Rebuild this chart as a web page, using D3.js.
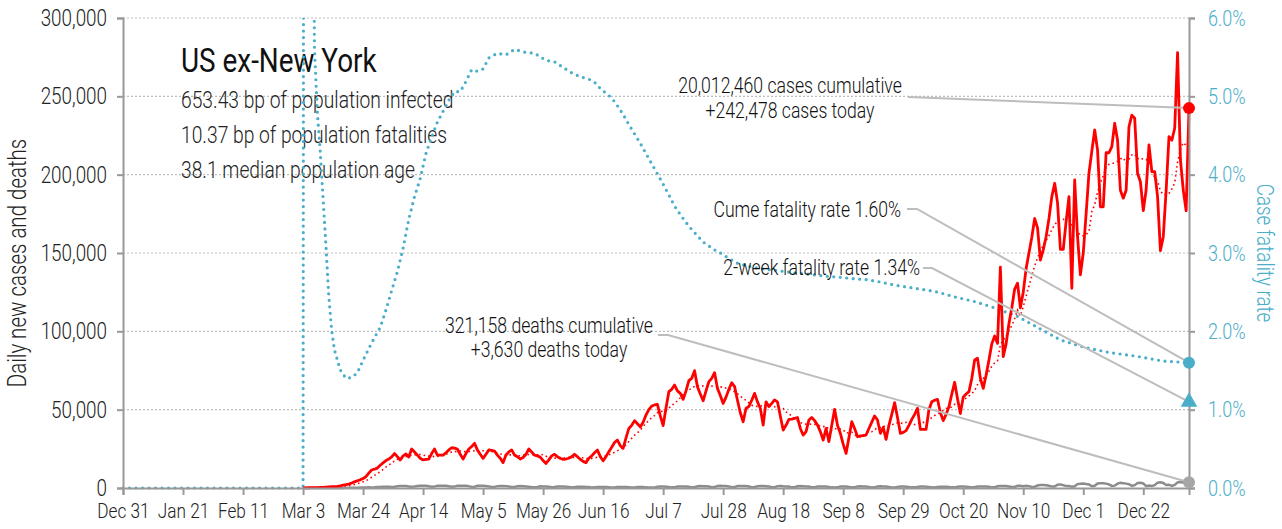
<!DOCTYPE html>
<html>
<head>
<meta charset="utf-8">
<script src="https://cdn.jsdelivr.net/npm/d3@7"></script>
<style>
body { margin: 0; background: #fff; }
svg text { font-family: Roboto, "Liberation Sans", sans-serif; font-weight: 300; }
</style>
</head>
<body>
<div id="chart"></div>
<script>
// day 0 is Dec 31 2019, daily series start on Mar 3 (day 63)
var seriesStart = 63

// daily new cases, thousands
var dailyCases = [
    0.1, 0.1, 0.15, 0.2, 0.2, 0.3, 0.4, 0.4, 0.6, 0.7,
    0.8, 0.9, 1.1, 1.4, 1.8, 2.1, 2.5, 3.2, 3.9, 4.6,
    5.2, 6.1, 7.2, 9.5, 11.5, 12, 12.7, 14.5, 16, 17.5,
    18.5, 19.8, 22, 20, 17.9, 20.5, 21.7, 19.8, 24.9, 23,
    21, 19, 17.9, 18.2, 18.5, 22, 24.9, 21, 21, 21,
    22.5, 24.3, 25.7, 25.5, 24.9, 21.5, 18.5, 22, 24.9, 26.5,
    28.5, 24.3, 21.5, 18.9, 21.5, 24.3, 24, 23.6, 21, 19,
    16.2, 21, 23, 24.3, 21, 20, 18.5, 19.5, 21.5, 24.9,
    23, 21, 20.5, 19.7, 17.5, 15.7, 18, 20.5, 21.5, 20,
    19, 18.3, 18.5, 19, 20, 21.5, 20, 18.3, 17, 16.2,
    19, 20.5, 22.5, 24.3, 20, 17.4, 20, 23.2, 26, 29,
    30.6, 27, 25.3, 32, 38, 40, 43, 41, 39, 42,
    46.6, 50, 52.3, 53, 53.4, 46, 39.8, 51, 61.5, 63,
    65.7, 62, 60.4, 56.6, 62, 68.5, 70, 74.9, 64.7, 60,
    55.7, 62, 67.9, 70, 73.6, 63.6, 59, 54, 58, 63,
    67.2, 64.7, 56, 48, 42.3, 50.9, 52, 56, 60.4, 55,
    50.9, 40.2, 55, 52, 54, 56.2, 55, 46, 37, 40,
    43.8, 44, 44.5, 45, 38, 33.8, 36, 43.4, 45, 43,
    40.2, 36, 30.6, 38, 29.6, 40, 50.2, 40, 34.9, 28,
    22.1, 32, 42.3, 38, 32.8, 33.2, 33.5, 33.8, 38, 42,
    46, 43.4, 34.9, 38.7, 31, 40, 47, 54.5, 45, 34.9,
    35.5, 36.6, 40, 43.8, 47, 50.9, 37.4, 37.4, 37.4, 50,
    55, 56, 56.6, 48, 43, 47, 51.9, 60, 67.5, 57,
    47.5, 58, 60, 61.5, 70, 81.7, 82.8, 70, 63.6, 72,
    81.7, 92, 97, 92.3, 141, 83.8, 92, 105, 115, 127,
    130.7, 115, 125, 140, 150, 160, 172, 166, 145.5, 152,
    160.4, 172, 186, 194.5, 182, 152.3, 152.3, 170, 186, 127.5,
    196.6, 160.4, 136, 150, 175, 201, 215, 228.5, 215.7, 179.5,
    179.5, 214, 214, 217.9, 232.8, 222, 190, 185, 190, 230.6,
    238, 236, 200.9, 195.5, 177, 190.2, 219, 201.9, 201.9, 186,
    151.5, 160.4, 190, 224.3, 222, 229.6, 277.9, 209.4, 190, 177, 242.478
]

// daily new deaths, thousands
var dailyDeaths = [
    0, 0, 0, 0, 0, 0, 0, 0.01, 0.01, 0.02,
    0.02, 0.03, 0.04, 0.05, 0.07, 0.08, 0.1, 0.12, 0.15, 0.2,
    0.25, 0.3, 0.35, 0.4, 0.35, 0.45, 0.6, 0.7, 0.8, 0.85,
    0.8, 0.7, 0.8, 1.1, 1.2, 1.2, 1.2, 1.0, 0.8, 0.9,
    1.3, 1.4, 1.4, 1.4, 1.1, 0.8, 0.9, 1.4, 1.5, 1.5,
    1.4, 1.1, 0.8, 0.9, 1.5, 1.5, 1.5, 1.4, 1.2, 0.7,
    0.8, 1.4, 1.5, 1.4, 1.3, 1.0, 0.6, 0.7, 1.2, 1.3,
    1.3, 1.2, 0.9, 0.6, 0.7, 1.1, 1.2, 1.1, 1.0, 0.8,
    0.5, 0.4, 0.6, 1.1, 1.0, 1.0, 0.8, 0.5, 0.6, 0.9,
    0.9, 0.9, 0.8, 0.6, 0.4, 0.5, 0.8, 0.8, 0.8, 0.7,
    0.6, 0.3, 0.4, 0.7, 0.7, 0.7, 0.6, 0.5, 0.3, 0.3,
    0.7, 0.6, 0.6, 0.6, 0.5, 0.3, 0.3, 0.6, 0.7, 0.6,
    0.4, 0.3, 0.3, 0.3, 0.8, 0.9, 0.9, 0.8, 0.7, 0.4,
    0.4, 0.9, 1.0, 1.0, 0.9, 0.8, 0.4, 0.5, 1.1, 1.2,
    1.1, 1.1, 0.9, 0.5, 0.6, 1.3, 1.4, 1.3, 1.2, 1.0,
    0.5, 0.6, 1.3, 1.3, 1.2, 1.2, 1.0, 0.5, 0.6, 1.1,
    1.3, 1.2, 1.1, 1.0, 0.5, 0.5, 1.2, 1.3, 1.1, 1.0,
    0.9, 0.4, 0.5, 1.1, 1.2, 1.1, 1.0, 0.9, 0.4, 0.4,
    1.0, 1.0, 1.0, 0.9, 0.7, 0.4, 0.3, 0.4, 0.9, 0.9,
    1.0, 0.7, 0.4, 0.4, 1.0, 1.1, 0.9, 0.9, 0.7, 0.3,
    0.4, 0.9, 1.1, 0.9, 0.9, 0.7, 0.3, 0.3, 0.7, 0.9,
    0.9, 0.8, 0.6, 0.4, 0.4, 0.7, 0.9, 0.9, 0.8, 0.6,
    0.4, 0.3, 0.7, 0.8, 0.8, 0.8, 0.6, 0.4, 0.4, 0.8,
    0.9, 0.9, 0.8, 0.7, 0.4, 0.5, 1.0, 1.0, 1.0, 0.9,
    0.8, 0.4, 0.5, 1.1, 1.2, 1.2, 1.2, 1.0, 0.6, 0.7,
    1.4, 1.4, 1.2, 1.4, 1.2, 0.6, 0.8, 1.6, 1.9, 1.9,
    1.8, 1.4, 0.9, 0.9, 2.1, 2.3, 1.8, 1.2, 1.2, 0.8,
    1.1, 2.5, 2.7, 2.8, 2.5, 2.3, 1.1, 1.4, 2.9, 3.0,
    3.1, 2.8, 2.3, 1.3, 1.5, 2.8, 3.3, 3.1, 2.8, 2.4,
    1.4, 1.8, 3.2, 3.3, 2.9, 1.2, 1.6, 1.3, 1.8, 3.4,
    3.6, 3.2, 1.9, 2.1, 1.3, 1.9, 3.6, 3.8, 3.5, 3.2, 3.63
]

// case fatality rate, percent (day offsets from Dec 31 2019)
var cfrDays = [
    0, 63, 64, 65, 66, 67, 68, 69, 70, 71,
    72, 73, 74, 76, 78, 80, 82, 84, 86, 88,
    90, 92, 94, 96, 98, 100, 102, 104, 106, 108,
    110, 112, 114, 116, 118, 120, 122, 124, 126, 128,
    131, 134, 137, 141, 144, 148, 151, 154, 157, 160,
    163, 165, 167, 169, 171, 173, 175, 177, 179, 181,
    183, 185, 187, 189, 191, 193, 195, 197, 199, 201,
    203, 205, 207, 209, 212, 215, 219, 223, 228, 232,
    237, 242, 247, 251, 256, 260, 265, 270, 277, 284,
    291, 298, 305, 313, 320, 328, 336, 345, 355, 364, 373
]
var cfrPct = [
    0, 0, 40, 20, 10, 5.6, 4.8, 4.3, 3.7, 3.1,
    2.45, 2.02, 1.76, 1.51, 1.4, 1.41, 1.47, 1.63, 1.78, 1.92,
    2.05, 2.27, 2.52, 2.76, 3.06, 3.43, 3.72, 3.95, 4.27, 4.48,
    4.67, 4.81, 4.95, 5.06, 5.06, 5.19, 5.34, 5.32, 5.35, 5.49,
    5.55, 5.53, 5.6, 5.56, 5.55, 5.46, 5.44, 5.37, 5.3, 5.25,
    5.22, 5.18, 5.1, 5.04, 4.98, 4.88, 4.77, 4.64, 4.52, 4.4,
    4.27, 4.14, 4.01, 3.88, 3.74, 3.6, 3.49, 3.39, 3.3, 3.22,
    3.14, 3.09, 3.04, 3.0, 2.93, 2.87, 2.83, 2.8, 2.78, 2.76,
    2.74, 2.72, 2.7, 2.69, 2.67, 2.66, 2.63, 2.59, 2.55, 2.51,
    2.44, 2.38, 2.3, 2.19, 2.05, 1.89, 1.8, 1.73, 1.68, 1.62, 1.60
]
var twoWeekMarkerPct = 1.10

var leftTicks = [0, 50000, 100000, 150000, 200000, 250000, 300000]
var rightTicks = [0, 1, 2, 3, 4, 5, 6]
var xTickLabels = ["Dec 31", "Jan 21", "Feb 11", "Mar 3", "Mar 24", "Apr 14", "May 5", "May 26", "Jun 16",
    "Jul 7", "Jul 28", "Aug 18", "Sep 8", "Sep 29", "Oct 20", "Nov 10", "Dec 1", "Dec 22"]

var infoLines = ["653.43 bp of population infected", "10.37 bp of population fatalities", "38.1 median population age"]

var width = 1282
var height = 529
var margin = { top: 18, right: 93, bottom: 41, left: 123 }
var blue = '#4aaec9'
var squeeze = 0.82   // horizontal squeeze, the original uses a condensed face
var origin = new Date(2019, 11, 31)
var lastDay = seriesStart + dailyCases.length - 1

function dayDate(d) { return d3.timeDay.offset(origin, d) }

// narrow the glyphs of text elements, keeping their anchor point
function condense(sel) {
    sel.each(function () {
        var t = d3.select(this)
        var x0 = +t.attr('x') || 0
        t.attr('x', x0 / squeeze)
            .attr('transform', (t.attr('transform') || '') + ' scale(' + squeeze + ',1)')
    })
}

var cases = dailyCases.map(function (v, i) {
    var lo = Math.max(0, i - 6)
    return { date: dayDate(seriesStart + i), value: v * 1000, avg: d3.mean(dailyCases.slice(lo, i + 1)) * 1000 }
})
var deaths = dailyDeaths.map(function (v, i) { return { date: dayDate(seriesStart + i), value: v * 1000 } })
var cfr = cfrDays.map(function (d, i) { return { date: dayDate(d), value: cfrPct[i] } })

var x = d3.scaleTime()
    .domain([origin, dayDate(lastDay)])
    .range([margin.left, width - margin.right])
var y = d3.scaleLinear()
    .domain([0, 300000])
    .range([height - margin.bottom, margin.top])
var y2 = d3.scaleLinear()
    .domain([0, 6])
    .range([height - margin.bottom, margin.top])

var svg = d3.select('#chart')
    .append('svg')
    .attr('width', width)
    .attr('height', height)

svg.append('defs').append('clipPath')
    .attr('id', 'plot')
    .append('rect')
    .attr('x', margin.left - 4)
    .attr('y', margin.top)
    .attr('width', width - margin.left - margin.right + 8)
    .attr('height', height - margin.top - margin.bottom + 4)

// gridlines
svg.append('g')
    .selectAll('line')
    .data(leftTicks.slice(1))
    .enter()
    .append('line')
    .attr('x1', margin.left)
    .attr('x2', width - margin.right)
    .attr('y1', function (d) { return y(d) })
    .attr('y2', function (d) { return y(d) })
    .attr('stroke', '#bdbdbd')
    .attr('stroke-width', 1.2)
    .attr('stroke-dasharray', '2,2')

// title block
svg.append('text')
    .attr('x', 181).attr('y', 72)
    .style('font-size', '34px')
    .style('font-weight', 400)
    .attr('fill', '#111')
    .text('US ex-New York')
    .call(condense)

svg.append('g')
    .selectAll('text')
    .data(infoLines)
    .enter()
    .append('text')
    .attr('x', 181)
    .attr('y', function (d, i) { return 108 + i * 35 })
    .style('font-size', '23.5px')
    .attr('fill', '#222')
    .text(function (d) { return d })
    .call(condense)

var plot = svg.append('g').attr('clip-path', 'url(#plot)')

var cfrLine = d3.line()
    .x(function (d) { return x(d.date) })
    .y(function (d) { return y2(d.value) })

plot.append('path')
    .datum(cfr)
    .attr('d', cfrLine)
    .attr('fill', 'none')
    .attr('stroke', blue)
    .attr('stroke-width', 3.2)
    .attr('stroke-linecap', 'round')
    .attr('stroke-dasharray', '0,6.5')

plot.append('path')
    .datum(deaths)
    .attr('d', d3.line().x(function (d) { return x(d.date) }).y(function (d) { return y(d.value) }))
    .attr('fill', 'none')
    .attr('stroke', '#8c8c8c')
    .attr('stroke-width', 2.5)

plot.append('path')
    .datum(cases)
    .attr('d', d3.line().x(function (d) { return x(d.date) }).y(function (d) { return y(d.value) }))
    .attr('fill', 'none')
    .attr('stroke', '#ff0000')
    .attr('stroke-width', 2.8)
    .attr('stroke-linejoin', 'round')

plot.append('path')
    .datum(cases)
    .attr('d', d3.line().x(function (d) { return x(d.date) }).y(function (d) { return y(d.avg) }))
    .attr('fill', 'none')
    .attr('stroke', '#ff0000')
    .attr('stroke-width', 1.6)
    .attr('stroke-dasharray', '1.6,3')

// axes
var xAxis = d3.axisBottom(x)
    .tickValues(xTickLabels.map(function (d, i) { return dayDate(i * 21) }))
    .tickFormat(function (d, i) { return xTickLabels[i] })
    .tickSize(7)
    .tickPadding(8)
var gx = svg.append('g')
    .attr('transform', 'translate(0,' + (height - margin.bottom) + ')')
    .call(xAxis)

var gy = svg.append('g')
    .attr('transform', 'translate(' + margin.left + ',0)')
    .call(d3.axisLeft(y).tickValues(leftTicks).tickFormat(d3.format(',')).tickSize(6).tickPadding(10))

var gy2 = svg.append('g')
    .attr('transform', 'translate(' + (width - margin.right) + ',0)')
    .call(d3.axisRight(y2).tickValues(rightTicks).tickFormat(function (d) { return d.toFixed(1) + '%' }).tickSize(6).tickPadding(13))

;[gx, gy, gy2].forEach(function (g) {
    g.select('.domain').attr('stroke', '#999').attr('stroke-width', 2)
    g.selectAll('.tick line').attr('stroke', '#999').attr('stroke-width', 2)
    g.selectAll('.tick text').style('font-size', '23px').attr('fill', '#222')
})
gx.selectAll('.tick text').style('font-size', '21px')
gy2.selectAll('.tick text').style('font-size', '22px').attr('fill', blue)
gx.selectAll('.tick text').call(condense)
gy.selectAll('.tick text').call(condense)
gy2.selectAll('.tick text').call(condense)

var midY = (margin.top + height - margin.bottom) / 2
svg.append('text')
    .attr('transform', 'translate(26,' + (midY + 10) + ') rotate(-90)')
    .attr('text-anchor', 'middle')
    .style('font-size', '25px')
    .attr('fill', '#222')
    .text('Daily new cases and deaths')
    .call(condense)

svg.append('text')
    .attr('transform', 'translate(1257,' + midY + ') rotate(90)')
    .attr('text-anchor', 'middle')
    .style('font-size', '23px')
    .attr('fill', blue)
    .text('Case fatality rate')
    .call(condense)

// callouts
var lastCase = cases[cases.length - 1]
var lastDeath = deaths[deaths.length - 1]
var lastCfr = cfr[cfr.length - 1]
var xEnd = x(dayDate(lastDay))

var leaders = [
    [[908, 97], [xEnd, y(lastCase.value)]],
    [[907, 209], [917, 209], [xEnd, y2(lastCfr.value)]],
    [[923, 268], [932, 268], [xEnd, y2(twoWeekMarkerPct)]],
    [[658, 335], [668, 335], [xEnd, y(lastDeath.value)]]
]
svg.append('g')
    .selectAll('path')
    .data(leaders)
    .enter()
    .append('path')
    .attr('d', d3.line())
    .attr('fill', 'none')
    .attr('stroke', '#bdbdbd')
    .attr('stroke-width', 2)

svg.append('circle').attr('cx', xEnd).attr('cy', y(lastCase.value)).attr('r', 6).attr('fill', '#ff0000')
svg.append('circle').attr('cx', xEnd).attr('cy', y2(lastCfr.value)).attr('r', 6).attr('fill', blue)
svg.append('circle').attr('cx', xEnd).attr('cy', y(lastDeath.value)).attr('r', 6).attr('fill', '#a6a6a6')
svg.append('path')
    .attr('d', d3.symbol(d3.symbolTriangle, 120)())
    .attr('transform', 'translate(' + xEnd + ',' + y2(twoWeekMarkerPct) + ')')
    .attr('fill', blue)

var notes = [
    { x: 790, y: 93, anchor: 'middle', text: '20,012,460 cases cumulative' },
    { x: 790, y: 118, anchor: 'middle', text: '+242,478 cases today' },
    { x: 901, y: 217, anchor: 'end', text: 'Cume fatality rate 1.60%' },
    { x: 920, y: 275, anchor: 'end', text: '2-week fatality rate 1.34%' },
    { x: 549, y: 333, anchor: 'middle', text: '321,158 deaths cumulative' },
    { x: 549, y: 357, anchor: 'middle', text: '+3,630 deaths today' }
]
svg.append('g')
    .selectAll('text')
    .data(notes)
    .enter()
    .append('text')
    .attr('x', function (d) { return d.x })
    .attr('y', function (d) { return d.y })
    .attr('text-anchor', function (d) { return d.anchor })
    .style('font-size', '21.5px')
    .attr('fill', '#111')
    .text(function (d) { return d.text })
    .call(condense)
</script>
</body>
</html>
